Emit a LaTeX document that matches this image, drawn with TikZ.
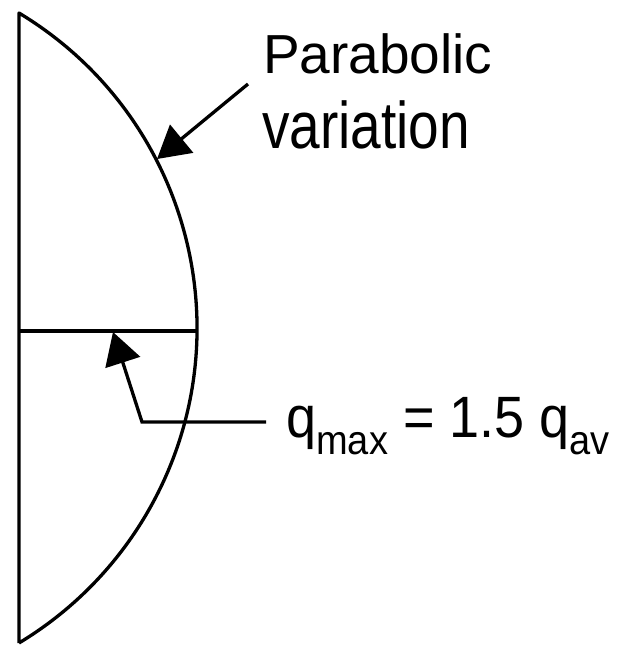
\documentclass[tikz,border=0pt]{standalone}
\usepackage{fontspec}
\setmainfont{Liberation Sans}
\usetikzlibrary{arrows.meta}
\newcommand{\lowsub}[1]{\raisebox{-16pt}{\fontsize{38}{38}\selectfont #1}}
\begin{document}
\begin{tikzpicture}[x=1pt,y=-1pt,
  outline/.style={line width=3.3pt,line join=round},
  lead/.style={line width=3.3pt,-{Triangle[length=32pt,width=36pt]}},
  lbl/.style={anchor=base west,inner sep=0pt,font=\fontsize{55}{62}\selectfont},
  lblq/.style={anchor=base west,inner sep=0pt,font=\fontsize{54}{66}\selectfont}]
\useasboundingbox (0,0) rectangle (621,646);
\coordinate (top) at (19,13);
\coordinate (bot) at (19,643);
\coordinate (midl) at (19,331);
\coordinate (midr) at (197,331);
\draw[outline] (bot) -- (top) arc[start angle=-58.94,end angle=58.94,radius=367.72];
\draw[outline] (midl) -- (midr);
\node[lbl] (t1) at (263,73) {Parabolic};
\node[lbl,yscale=1.2] (t2) at (262,148) {variation};
\coordinate (a1s) at (248,84);
\coordinate (a1e) at (157,159);
\draw[lead] (a1s) -- (a1e);
\node[lblq,yscale=1.08] (q) at (286,437) {q\lowsub{max} = 1.5 q\lowsub{av}};
\coordinate (a2s) at (266,422);
\coordinate (a2k) at (142,422);
\coordinate (a2e) at (113,332);
\draw[lead] (a2s) -- (a2k) -- (a2e);
\end{tikzpicture}
\end{document}
